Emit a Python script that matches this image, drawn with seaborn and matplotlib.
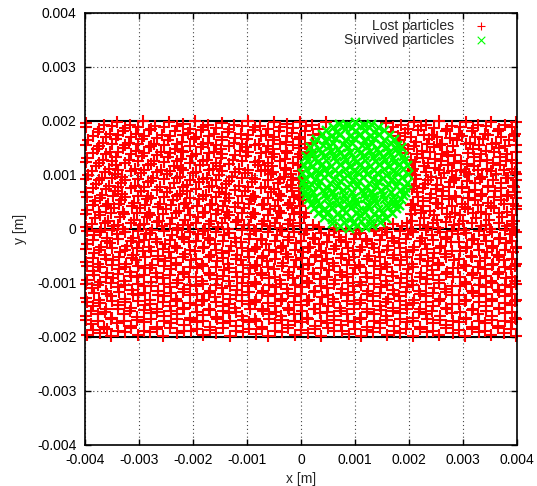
import matplotlib
matplotlib.use('Agg')
import matplotlib.pyplot as plt
import pandas as pd
import seaborn as sns

# toa do doc tu hinh, don vi 1e-5 m
lost_points = [
    (-397,-197),(-372,-192),(-351,-199),(-326,-190),(-302,-196),(-279,-191),(-255,-198),(-229,-193),(-204,-189),(-181,-197),(-158,-192),(-131,-199),(-108,-190),(-84,-195),(-61,-198),(-36,-191),(-12,-196),(13,-193),(37,-199),(62,-189),(88,-195),(111,-198),(134,-191),(160,-196),(184,-192),(207,-199),(233,-190),(256,-197),(281,-193),(304,-198),(329,-190),(352,-196),(376,-192),(398,-198),
    (-389,-176),(-364,-181),(-340,-174),(-314,-179),(-291,-172),(-266,-182),(-241,-175),(-217,-178),(-193,-172),(-169,-181),(-144,-174),(-120,-179),(-96,-173),(-72,-182),(-49,-175),(-24,-178),(1,-173),(25,-180),(49,-175),(74,-178),(99,-172),(123,-181),(147,-174),(172,-179),(196,-173),(220,-182),(245,-175),(269,-178),(293,-172),(317,-181),(341,-174),(365,-179),(390,-173),
    (-399,-161),(-376,-157),(-350,-165),(-327,-158),(-303,-163),(-278,-155),(-254,-162),(-230,-157),(-205,-165),(-182,-159),(-157,-163),(-133,-156),(-109,-161),(-85,-166),(-60,-157),(-37,-162),(-13,-158),(12,-165),(36,-156),(61,-161),(86,-158),(110,-165),(135,-157),(158,-162),(183,-156),(208,-164),(232,-158),(257,-162),(280,-155),(305,-165),(328,-158),(354,-162),(377,-156),(397,-164),
    (-386,-143),(-361,-148),(-338,-140),(-315,-146),(-289,-141),(-267,-149),(-243,-142),(-218,-147),(-194,-140),(-170,-148),(-145,-143),(-122,-146),(-97,-139),(-73,-148),(-48,-142),(-25,-147),(0,-140),(24,-148),(50,-143),(73,-146),(98,-139),(122,-148),(146,-142),(171,-147),(195,-140),(221,-148),(244,-143),(268,-146),(292,-139),(318,-148),(342,-142),(366,-147),(391,-140),
    (-398,-127),(-374,-131),(-352,-124),(-325,-130),(-301,-123),(-280,-132),(-253,-125),(-231,-129),(-206,-123),(-180,-131),(-159,-126),(-132,-130),(-110,-123),(-83,-132),(-62,-125),(-35,-129),(-11,-124),(14,-131),(38,-126),(60,-129),(87,-123),(112,-132),(133,-125),(161,-130),(182,-124),(209,-131),(231,-125),(258,-129),(279,-123),(306,-132),(330,-125),(353,-130),(378,-124),(399,-131),
    (-387,-110),(-362,-114),(-339,-107),(-313,-113),(-290,-106),(-265,-115),(-242,-108),(-216,-112),(-195,-106),(-168,-114),(-146,-109),(-119,-113),(-98,-106),(-71,-115),(-47,-108),(-26,-112),(2,-107),(26,-114),(48,-109),(75,-112),(97,-106),(124,-115),(148,-108),(170,-113),(197,-107),(219,-114),(246,-109),(267,-112),(294,-106),(316,-115),(343,-108),(364,-113),(389,-107),
    (-396,-94),(-373,-98),(-349,-90),(-328,-96),(-304,-89),(-277,-98),(-256,-91),(-228,-95),(-207,-89),(-183,-97),(-156,-92),(-134,-96),(-107,-89),(-86,-98),(-59,-91),(-38,-95),(-14,-90),(11,-97),(35,-92),(63,-95),(85,-89),(109,-98),(136,-91),(157,-96),(185,-90),(206,-97),(234,-92),(255,-95),(282,-89),(303,-98),(331,-91),(351,-96),(379,-90),(396,-97),
    (-385,-77),(-360,-81),(-337,-74),(-316,-80),(-288,-73),(-268,-82),(-240,-75),(-219,-79),(-192,-73),(-171,-81),(-143,-76),(-121,-80),(-95,-73),(-74,-82),(-50,-75),(-23,-79),(3,-74),(23,-81),(51,-76),(72,-79),(100,-73),(121,-82),(149,-75),(169,-80),(198,-74),(222,-81),(243,-76),(270,-79),(291,-73),(319,-82),(340,-75),(367,-80),(388,-74),
    (-398,-61),(-375,-65),(-348,-58),(-324,-64),(-305,-57),(-276,-66),(-252,-59),(-232,-63),(-203,-57),(-184,-65),(-155,-60),(-135,-64),(-111,-57),(-82,-66),(-63,-59),(-34,-63),(-10,-58),(15,-65),(39,-60),(59,-63),(89,-57),(108,-66),(137,-59),(156,-64),(186,-58),(205,-65),(235,-60),(254,-63),(283,-57),(302,-66),(332,-59),(355,-64),(375,-58),(398,-65),
    (-384,-45),(-363,-49),(-336,-42),(-312,-48),(-292,-41),(-264,-50),(-244,-43),(-215,-47),(-196,-41),(-167,-49),(-147,-44),(-118,-48),(-99,-41),(-70,-50),(-46,-43),(-27,-47),(4,-42),(27,-49),(47,-44),(76,-47),(96,-41),(125,-50),(145,-43),(173,-48),(194,-42),(223,-49),(247,-44),(266,-47),(295,-41),(315,-50),(344,-43),(363,-48),(392,-42),
    (-397,-28),(-371,-33),(-353,-26),(-323,-32),(-300,-25),(-281,-34),(-251,-27),(-233,-31),(-208,-25),(-179,-33),(-160,-28),(-130,-32),(-112,-25),(-81,-34),(-64,-27),(-33,-31),(-9,-26),(16,-33),(34,-28),(64,-31),(84,-25),(113,-34),(132,-27),(162,-32),(181,-26),(210,-33),(230,-28),(259,-31),(278,-25),(307,-34),(327,-27),(356,-32),(380,-26),(399,-33),
    (-383,-12),(-359,-17),(-341,-10),(-311,-16),(-287,-9),(-269,-18),(-239,-11),(-220,-15),(-191,-9),(-172,-17),(-142,-12),(-123,-16),(-94,-9),(-75,-18),(-45,-11),(-22,-15),(5,-10),(22,-17),(52,-12),(71,-15),(101,-9),(120,-18),(150,-11),(168,-16),(199,-10),(224,-17),(242,-12),(271,-15),(290,-9),(320,-18),(339,-11),(368,-16),(387,-10),
    (-399,4),(-370,-1),(-347,6),(-329,0),(-299,7),(-275,-2),(-257,5),(-227,1),(-209,7),(-178,-1),(-154,4),(-136,0),(-106,7),(-87,-2),(-58,5),(-39,1),(-15,6),(10,-1),(33,4),(65,1),(83,-3),(107,-2),(138,-1),(155,2),(187,6),(204,-1),(236,4),(253,1),(284,7),(301,-2),(333,5),(350,0),(381,6),(395,-1),
    (-382,20),(-358,15),(-335,22),(-310,16),(-286,23),(-263,14),(-238,21),(-214,17),(-190,23),(-166,15),(-141,20),(-117,16),(-93,23),(-69,14),(-44,21),(-21,17),(6,22),(206,15),(228,20),(252,17),(276,23),(300,14),(324,21),(348,16),(372,22),(394,15),
    (-396,36),(-374,31),(-346,38),(-330,32),(-298,39),(-282,30),(-250,37),(-226,33),(-210,39),(-177,31),(-153,36),(-137,32),(-105,39),(-88,30),(-57,37),(-40,33),(-16,38),(-2,31),(212,36),(238,33),(261,39),(285,30),(309,37),(334,32),(358,38),(382,31),(399,37),
    (-381,52),(-357,47),(-334,54),(-309,48),(-285,55),(-262,46),(-237,53),(-213,49),(-189,55),(-165,47),(-140,52),(-116,48),(-92,55),(-68,46),(-43,53),(-20,49),(4,54),(208,47),(226,52),(250,49),(274,55),(298,46),(322,53),(347,48),(370,54),(393,47),
    (-398,68),(-369,63),(-345,70),(-331,64),(-297,71),(-283,62),(-249,69),(-225,65),(-211,71),(-176,63),(-152,68),(-138,64),(-104,71),(-89,62),(-56,69),(-41,65),(-17,70),(-1,63),(214,68),(240,65),(263,71),(286,62),(311,69),(335,64),(360,70),(383,63),(397,69),
    (-380,84),(-356,79),(-333,86),(-308,80),(-284,87),(-261,78),(-236,85),(-212,81),(-188,87),(-164,79),(-139,84),(-115,80),(-91,87),(-67,78),(-42,85),(-19,81),(3,86),(209,79),(229,84),(251,81),(275,87),(299,78),(323,85),(346,80),(371,86),(392,79),
    (-395,100),(-368,95),(-344,102),(-332,96),(-296,103),(-274,94),(-248,101),(-224,97),(-200,103),(-175,95),(-151,100),(-127,96),(-103,103),(-90,94),(-55,101),(-32,97),(-18,102),(-3,95),(211,100),(241,97),(264,103),(287,94),(312,101),(336,96),(361,102),(384,95),(399,101),
    (-379,116),(-355,111),(-342,118),(-307,112),(-283,119),(-260,110),(-235,117),(-222,113),(-187,119),(-163,111),(-150,116),(-114,112),(-80,119),(-66,110),(-54,117),(-30,113),(-6,118),(208,111),(227,116),(249,113),(273,119),(297,110),(321,117),(345,112),(369,118),(391,111),
    (-397,132),(-367,127),(-343,134),(-319,128),(-295,135),(-273,126),(-247,133),(-223,129),(-201,135),(-174,127),(-149,132),(-126,128),(-102,135),(-78,126),(-53,133),(-29,129),(-5,134),(203,127),(225,132),(248,129),(272,135),(296,126),(320,133),(344,128),(368,134),(390,127),
    (-378,148),(-354,143),(-330,150),(-306,144),(-282,151),(-259,142),(-234,149),(-221,145),(-186,151),(-162,143),(-148,148),(-113,144),(-101,151),(-65,142),(-52,149),(-28,145),(-4,150),(12,143),(198,148),(224,145),(246,151),(271,142),(319,149),(343,144),(367,150),(398,143),
    (-395,164),(-366,159),(-342,166),(-318,160),(-294,167),(-272,158),(-246,165),(-220,161),(-199,167),(-173,159),(-147,164),(-125,160),(-100,167),(-77,158),(-51,165),(-27,161),(-3,166),(20,159),(184,164),(213,161),(237,167),(262,158),(288,165),(313,160),(337,166),(362,159),(386,165),
    (-376,180),(-353,175),(-329,182),(-305,176),(-281,183),(-258,174),(-233,181),(-209,177),(-185,183),(-161,175),(-135,180),(-112,176),(-88,183),(-64,174),(-40,181),(-16,177),(8,182),(34,175),(166,180),(193,177),(217,183),(243,174),(269,181),(293,176),(317,182),(341,175),(365,181),(396,176),
    (-398,197),(-365,192),(-341,199),(-317,193),(-293,200),(-270,191),(-245,198),(-219,194),(-197,200),(-172,192),(-146,197),(-124,193),(-99,200),(-76,191),(-50,198),(-26,194),(-2,199),(21,192),(47,198),(157,196),(186,192),(210,199),(232,193),(255,200),(280,191),(306,198),(328,193),(352,199),(377,192),(399,198),
]

# dot diem thu hai, nam xen giua cac hang tren
lost_points_2 = [
    (-385,-187),(-360,-185),(-338,-189),(-314,-184),(-290,-188),(-267,-186),(-242,-184),(-216,-189),(-193,-185),(-169,-187),(-145,-184),(-120,-188),(-96,-186),(-73,-185),(-48,-189),(-24,-184),(0,-187),(26,-186),(50,-184),(75,-188),(100,-185),(122,-187),(147,-184),(172,-189),(195,-186),(220,-185),(245,-188),(268,-184),(293,-187),(317,-185),(341,-189),(365,-184),(388,-186),
    (-398,-169),(-375,-171),(-352,-167),(-327,-170),(-303,-168),(-278,-166),(-254,-170),(-229,-167),(-205,-169),(-181,-171),(-156,-166),(-132,-170),(-108,-168),(-84,-171),(-60,-167),(-36,-169),(-12,-171),(13,-166),(37,-170),(62,-168),(87,-170),(111,-167),(135,-171),(159,-169),(184,-166),(208,-170),(233,-167),(257,-169),(281,-171),(305,-167),(329,-170),(353,-168),(378,-171),(399,-167),
    (-388,-151),(-363,-153),(-339,-149),(-316,-152),(-291,-150),(-266,-154),(-241,-151),(-217,-149),(-192,-153),(-168,-150),(-144,-152),(-121,-154),(-95,-149),(-71,-151),(-47,-153),(-23,-150),(2,-152),(25,-149),(49,-154),(74,-151),(99,-149),(123,-153),(148,-150),(170,-152),(196,-149),(219,-153),(243,-151),(270,-149),(294,-154),(316,-150),(343,-152),(367,-149),(390,-153),
    (-397,-135),(-372,-137),(-350,-133),(-326,-136),(-302,-134),(-279,-138),(-255,-135),(-230,-133),(-206,-137),(-183,-134),(-157,-136),(-133,-138),(-109,-133),(-85,-135),(-61,-137),(-37,-134),(-13,-136),(12,-133),(36,-138),(61,-135),(86,-133),(110,-137),(134,-134),(158,-136),(183,-133),(207,-137),(232,-135),(255,-133),(280,-138),(304,-134),(329,-136),(354,-133),(377,-137),(397,-134),
    (-384,-118),(-360,-121),(-337,-117),(-312,-120),(-288,-118),(-264,-122),(-240,-119),(-219,-117),(-193,-121),(-170,-118),(-144,-120),(-120,-122),(-97,-117),(-72,-119),(-49,-121),(-24,-118),(0,-120),(24,-117),(50,-122),(74,-119),(98,-117),(122,-121),(147,-118),(172,-120),(195,-117),(221,-121),(244,-119),(269,-117),(292,-122),(318,-118),(342,-120),(366,-117),(390,-121),
    (-399,-102),(-375,-104),(-351,-100),(-326,-103),(-302,-101),(-278,-105),(-254,-102),(-229,-100),(-206,-104),(-181,-101),(-158,-103),(-132,-105),(-110,-100),(-84,-102),(-60,-104),(-37,-101),(-12,-103),(14,-100),(37,-105),(62,-102),(87,-100),(111,-104),(135,-101),(160,-103),(183,-100),(208,-104),(232,-102),(256,-100),(280,-105),(305,-101),(330,-103),(353,-100),(377,-104),(398,-101),
    (-384,-85),(-361,-88),(-338,-84),(-314,-87),(-290,-85),(-266,-89),(-242,-86),(-217,-84),(-194,-88),(-169,-85),(-145,-87),(-119,-89),(-96,-84),(-72,-86),(-48,-88),(-25,-85),(1,-87),(24,-84),(48,-89),(75,-86),(97,-84),(122,-88),(146,-85),(171,-87),(196,-84),(220,-88),(245,-86),(268,-84),(294,-89),(317,-85),(342,-87),(365,-84),(390,-88),
    (-397,-69),(-373,-71),(-350,-67),(-326,-70),(-301,-68),(-279,-72),(-254,-69),(-231,-67),(-205,-71),(-182,-68),(-157,-70),(-133,-72),(-108,-67),(-85,-69),(-61,-71),(-36,-68),(-13,-70),(13,-67),(37,-72),(61,-69),(86,-67),(110,-71),(135,-68),(159,-70),(184,-67),(208,-71),(233,-69),(256,-67),(281,-72),(305,-68),(328,-70),(354,-67),(378,-71),(397,-68),
    (-386,-53),(-362,-55),(-337,-51),(-313,-54),(-289,-52),(-265,-56),(-241,-53),(-218,-51),(-194,-55),(-170,-52),(-144,-54),(-120,-56),(-97,-51),(-73,-53),(-48,-55),(-24,-52),(1,-54),(25,-51),(49,-56),(74,-53),(99,-51),(123,-55),(147,-52),(171,-54),(196,-51),(220,-55),(244,-53),(269,-51),(293,-56),(317,-52),(341,-54),(366,-51),(390,-55),
    (-399,-37),(-374,-39),(-350,-35),(-325,-38),(-303,-36),(-278,-40),(-255,-37),(-230,-35),(-206,-39),(-181,-36),(-158,-38),(-133,-40),(-109,-35),(-85,-37),(-60,-39),(-37,-36),(-12,-38),(13,-35),(37,-40),(62,-37),(87,-35),(110,-39),(136,-36),(159,-38),(183,-35),(208,-39),(233,-37),(257,-35),(280,-40),(305,-36),(329,-38),(353,-35),(377,-39),(398,-36),
    (-385,-20),(-360,-23),(-338,-19),(-314,-22),(-290,-20),(-266,-24),(-242,-21),(-217,-19),(-194,-23),(-169,-20),(-145,-22),(-120,-24),(-96,-19),(-72,-21),(-48,-23),(-24,-20),(0,-22),(25,-19),(49,-24),(74,-21),(98,-19),(123,-23),(147,-20),(172,-22),(195,-19),(220,-23),(245,-21),(268,-19),(293,-24),(317,-20),(342,-22),(366,-19),(390,-23),
    (-397,-4),(-373,-6),(-350,-2),(-326,-5),(-302,-3),(-279,-7),(-254,-4),(-230,-2),(-206,-6),(-182,-3),(-157,-5),(-133,-7),(-109,-2),(-84,-4),(-61,-6),(-36,-3),(-13,-5),(12,-2),(37,-7),(62,-4),(110,-7),(135,-4),(159,-6),(184,-3),(208,-5),(232,-2),(257,-6),(280,-3),(305,-7),(329,-4),(353,-6),(378,-2),(398,-5),
    (-387,10),(-363,12),(-339,8),(-315,11),(-291,9),(-267,13),(-243,10),(-218,8),(-194,12),(-170,9),(-146,11),(-121,13),(-97,8),(-72,10),(-48,12),(-25,9),(-2,11),(22,8),(170,9),(196,12),(220,8),(244,11),(268,13),(293,9),(317,11),(342,8),(366,12),(390,10),
    (-398,28),(-372,26),(-351,30),(-327,27),(-303,29),(-279,25),(-255,28),(-231,30),(-206,26),(-182,29),(-158,27),(-134,25),(-110,30),(-85,28),(-61,26),(-37,29),(-13,27),(9,30),(204,27),(222,29),(246,26),(270,28),(295,25),(319,29),(343,27),(367,30),(391,26),
    (-386,44),(-361,42),(-337,46),(-313,43),(-289,45),(-265,41),(-241,44),(-217,46),(-193,42),(-169,45),(-145,43),(-122,41),(-97,46),(-73,44),(-49,42),(-25,45),(-1,43),(203,44),(226,42),(254,46),(279,43),(303,41),(327,45),(352,43),(376,46),(398,42),
    (-397,60),(-373,58),(-349,62),(-325,59),(-301,61),(-277,57),(-253,60),(-229,62),(-205,58),(-181,61),(-157,59),(-133,57),(-109,62),(-85,60),(-61,58),(-37,61),(-13,59),(-3,56),(216,60),(238,58),(262,62),(287,59),(310,57),(334,61),(358,59),(382,62),(399,58),
    (-386,76),(-362,74),(-338,78),(-314,75),(-290,77),(-266,73),(-242,76),(-218,78),(-194,74),(-170,77),(-146,75),(-122,73),(-98,78),(-74,76),(-50,74),(-26,77),(-4,75),(205,74),(226,76),(250,74),(274,78),(298,75),(322,73),(347,77),(371,75),(394,78),
    (-398,92),(-374,90),(-350,94),(-326,91),(-302,93),(-278,89),(-254,92),(-230,94),(-206,90),(-182,93),(-158,91),(-134,89),(-110,94),(-86,92),(-62,90),(-38,93),(-14,91),(213,92),(236,90),(260,94),(284,91),(308,89),(332,93),(356,91),(380,94),(398,90),
    (-387,108),(-363,106),(-339,110),(-315,107),(-291,109),(-267,105),(-243,108),(-219,110),(-195,106),(-171,109),(-147,107),(-123,105),(-99,110),(-75,108),(-51,106),(-27,109),(-3,107),(205,108),(232,106),(256,110),(280,107),(304,105),(328,109),(352,107),(376,110),(397,106),
    (-398,124),(-374,122),(-350,126),(-326,123),(-302,125),(-278,121),(-254,124),(-230,126),(-206,122),(-182,125),(-158,123),(-134,121),(-110,126),(-86,124),(-62,122),(-38,125),(-14,123),(212,124),(236,122),(260,126),(284,123),(308,121),(332,125),(356,123),(380,126),(399,122),
    (-386,140),(-362,138),(-338,142),(-314,139),(-290,141),(-266,137),(-242,140),(-218,142),(-194,138),(-170,141),(-146,139),(-122,137),(-98,142),(-74,140),(-50,138),(-26,141),(-2,139),(20,142),(193,140),(214,138),(238,142),(262,139),(286,137),(310,141),(334,139),(358,142),(382,138),
    (-398,156),(-374,154),(-350,158),(-326,155),(-302,157),(-278,153),(-254,156),(-230,158),(-206,154),(-182,157),(-158,155),(-134,153),(-110,158),(-86,156),(-62,154),(-38,157),(-14,155),(8,158),(190,156),(210,154),(234,158),(258,155),(282,153),(306,157),(330,155),(354,158),(378,154),(399,156),
    (-386,172),(-362,170),(-338,174),(-314,171),(-290,173),(-266,169),(-242,172),(-218,174),(-194,170),(-170,173),(-146,171),(-122,169),(-98,174),(-74,172),(-50,170),(-26,173),(-2,171),(22,174),(180,172),(203,170),(227,174),(251,171),(275,169),(299,173),(323,171),(347,174),(371,170),(394,172),
    (-398,188),(-374,186),(-350,190),(-326,187),(-302,189),(-278,185),(-254,188),(-230,190),(-206,186),(-182,189),(-158,187),(-134,185),(-110,190),(-86,188),(-62,186),(-38,189),(-14,187),(10,190),(33,186),(170,188),(198,186),(222,190),(246,187),(270,185),(294,189),(318,187),(342,190),(366,186),(390,188),
]

survived_points = [
    (72,5),(88,2),(104,8),(119,3),(131,7),
    (43,23),(58,19),(76,24),(93,20),(110,25),(127,19),(144,23),(158,21),
    (24,39),(40,36),(57,41),(75,37),(92,40),(108,36),(126,42),(143,37),(161,41),(176,38),
    (13,55),(30,52),(47,57),(65,53),(83,56),(100,52),(118,57),(136,53),(153,56),(171,52),(186,55),
    (8,71),(23,68),(41,73),(59,69),(77,72),(95,68),(113,73),(131,69),(148,72),(166,68),(183,72),(193,69),
    (3,87),(19,84),(36,89),(54,85),(72,88),(90,84),(108,89),(125,85),(143,88),(161,84),(179,89),(197,86),
    (2,103),(16,100),(33,105),(50,101),(68,104),(86,100),(104,105),(122,101),(140,104),(158,100),(176,105),(198,102),
    (5,119),(20,116),(38,121),(55,117),(73,120),(91,116),(109,121),(127,117),(145,120),(163,116),(181,121),(196,118),
    (9,135),(26,132),(44,137),(62,133),(80,136),(98,132),(116,137),(134,133),(152,136),(170,132),(188,135),
    (16,151),(33,148),(51,153),(69,149),(87,152),(105,148),(123,153),(141,149),(159,152),(176,148),(185,151),
    (28,167),(45,164),(63,169),(81,165),(99,168),(117,164),(135,169),(153,165),(172,167),
    (46,183),(64,180),(82,185),(100,181),(118,184),(136,180),(154,183),
    (70,195),(86,192),(100,198),(116,193),(130,195),
    (58,12),(80,13),(96,11),(112,14),(128,12),(146,13),
    (32,29),(50,31),(67,28),(84,32),(101,29),(118,31),(135,28),(152,32),(168,30),
    (18,46),(35,47),(52,44),(70,48),(87,45),(104,47),(122,44),(139,48),(157,45),(174,47),(182,44),
    (10,63),(26,60),(44,64),(62,61),(80,63),(98,60),(116,64),(134,61),(152,63),(170,60),(188,63),
    (5,79),(14,77),(31,80),(49,76),(67,79),(85,77),(103,80),(121,76),(139,79),(157,77),(175,80),(192,78),
    (8,95),(25,92),(43,96),(61,93),(79,95),(97,92),(115,96),(133,93),(151,95),(169,92),(187,96),
    (9,111),(27,108),(45,112),(63,109),(81,111),(99,108),(117,112),(135,109),(153,111),(171,108),(189,112),
    (12,127),(29,124),(47,128),(65,125),(83,127),(101,124),(119,128),(137,125),(155,127),(173,124),(190,127),
    (20,143),(37,140),(55,144),(73,141),(91,143),(109,140),(127,144),(145,141),(163,143),(180,140),
    (24,159),(41,156),(59,160),(77,157),(95,159),(113,156),(131,160),(149,157),(167,159),(178,156),
    (38,175),(55,172),(73,176),(91,173),(109,175),(127,172),(145,176),(163,174),
    (60,189),(78,190),(94,188),(110,190),(126,188),(142,189),
]

# khung vung mau, ve duoi cac diem
frame_x = [-400, 400, None, -400, 400, None, -400, 400, None, 0, 0]
frame_y = [200, 200, None, -200, -200, None, 0, 0, None, -200, 200]

ticks = [-0.004, -0.003, -0.002, -0.001, 0, 0.001, 0.002, 0.003, 0.004]
tick_labels = ['-0.004', '-0.003', '-0.002', '-0.001', '0', '0.001', '0.002', '0.003', '0.004']

sns.set_style('ticks')
plt.rcParams['font.family'] = ['Liberation Sans', 'DejaVu Sans']

lost = pd.DataFrame(lost_points + lost_points_2, columns=['x', 'y']) * 1e-5
survived = pd.DataFrame(survived_points, columns=['x', 'y']) * 1e-5

fig = plt.figure(figsize=(5.37, 4.86), dpi=100)
ax = fig.add_axes([85 / 537, 1 - 445 / 486, 432 / 537, 432 / 486])

ax.plot([v * 1e-5 if v is not None else None for v in frame_x],
        [v * 1e-5 if v is not None else None for v in frame_y],
        color='black', lw=1.5, zorder=1.5)

sns.scatterplot(data=lost, x='x', y='y', marker='+', color='#ff0000', s=70, linewidth=1.5,
                label='Lost particles', ax=ax, zorder=2, clip_on=False)
sns.scatterplot(data=survived, x='x', y='y', marker='x', color='#00ff00', s=42, linewidth=1.7,
                label='Survived particles', ax=ax, zorder=3, clip_on=False)

ax.set_xlim(-0.004, 0.004)
ax.set_ylim(-0.004, 0.004)
ax.set_xticks(ticks)
ax.set_xticklabels(tick_labels)
ax.set_yticks(ticks)
ax.set_yticklabels(tick_labels)
ax.set_xlabel('x [m]', fontsize=10, labelpad=3)
ax.set_ylabel('y [m]', fontsize=10, labelpad=7)
ax.tick_params(direction='in', length=4.5, width=1, top=True, right=True, labelsize=10, colors='black', pad=6)
ax.grid(True, color='#444444', linestyle=':', linewidth=0.8, dashes=(1, 2.5))
ax.set_axisbelow(True)
for spine in ax.spines.values():
    spine.set_linewidth(1.2)
    spine.set_color('black')
    spine.set_zorder(5)

leg = ax.legend(loc='upper right', frameon=False, fontsize=10, markerfirst=False,
                labelspacing=0.0, handlelength=1.0, handletextpad=1.4, borderaxespad=0,
                bbox_to_anchor=(0.945, 1.0))
for text in leg.get_texts():
    text.set_ha('right')
for handle in leg.legend_handles:
    handle.set_sizes([30])
    handle.set_linewidth(0.8)

fig.savefig('out.png', dpi=100)
